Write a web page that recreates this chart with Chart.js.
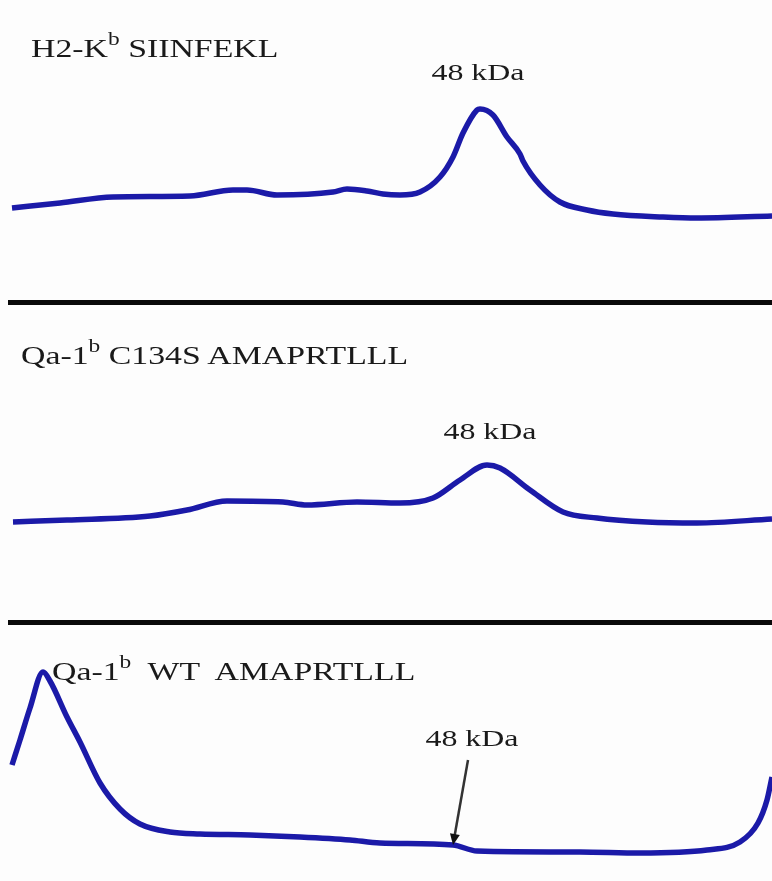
<!DOCTYPE html>
<html>
<head>
<meta charset="utf-8">
<script src="https://cdn.jsdelivr.net/npm/chart.js@4.4.1/dist/chart.umd.min.js"></script>
<style>
  body { margin: 0; background: #fdfdfd; }
  #wrap { position: relative; width: 772px; height: 881px; overflow: hidden; }
  .panel { position: absolute; left: 0; width: 772px; }
  .sep { position: absolute; left: 8px; right: 0; height: 5px; background: #0a0a0a; }
  .title { position: absolute; font-family: "Liberation Serif", "DejaVu Serif", serif; font-size: 26px; color: #1a1a1a; white-space: pre; transform: scaleX(1.3); transform-origin: 0 0; }
  .title sup { font-size: 18px; vertical-align: 0; position: relative; top: -12px; }
</style>
</head>
<body>
<div id="wrap">
  <div class="panel" style="top:0;height:300px"><canvas id="lane1"></canvas></div>
  <div class="panel" style="top:306px;height:314px"><canvas id="lane2"></canvas></div>
  <div class="panel" style="top:626px;height:255px"><canvas id="lane3"></canvas></div>
  <div class="sep" style="top:300px"></div>
  <div class="sep" style="top:620px"></div>
  <div class="title" style="left:31px;top:34px">H2-K<sup>b</sup> SIINFEKL</div>
  <div class="title" style="left:21px;top:341px">Qa-1<sup>b</sup> C134S AMAPRTLLL</div>
  <div class="title" style="left:52px;top:657px">Qa-1<sup>b</sup>  WT  AMAPRTLLL</div>
</div>
<script>
// densitometry scans: migration position vs. band intensity
const pos1 = [12, 60, 113, 190, 233, 247, 277, 333, 347, 367, 383, 400, 420, 440, 453, 463, 477, 480, 493, 507, 520, 523, 540, 560, 587, 613, 663, 697, 772];
const h2kb = [92, 97, 103, 104, 110, 110, 105, 108, 111, 109, 106, 105, 108, 123, 143, 167, 190, 191, 185, 163, 146, 139, 115, 98, 90, 86, 83, 82, 84];

const pos2 = [13, 67, 150, 187, 227, 283, 307, 357, 400, 433, 460, 487, 500, 530, 563, 597, 647, 697, 772];
const qa1C134S = [98, 100, 104, 110, 119, 118, 115, 118, 117, 122, 140, 155, 152, 130, 108, 102, 98, 97, 101];

const pos3 = [12, 20, 30, 43, 50, 67, 80, 100, 120, 140, 170, 200, 250, 300, 350, 380, 453, 477, 580, 640, 707, 740, 758, 767, 772];
const qa1WT = [116, 141, 173, 209, 200, 164, 139, 98, 72, 57, 49, 47, 46, 44, 41, 38, 36, 30, 29, 28, 31, 39, 58, 81, 104];

// 48 kDa band position on each lane
const kdaPos = [480, 487, 453];
const kdaLabel = '48 kDa';

function wideText(ctx, text, x, y) {
  ctx.save();
  ctx.translate(x, y);
  ctx.scale(1.33, 1);
  ctx.fillText(text, 0, 0);
  ctx.restore();
}

const bandLabel = {
  id: 'bandLabel',
  afterDatasetsDraw(chart, args, opts) {
    const { ctx, scales } = chart;
    const px = scales.x.getPixelForValue(opts.x);
    const ds = chart.data.datasets[0].data;
    const py = scales.y.getPixelForValue(ds.find(p => p.x === opts.x).y);
    ctx.save();
    ctx.font = '24px "Liberation Serif", serif';
    ctx.fillStyle = '#1a1a1a';
    ctx.textAlign = 'center';
    ctx.textBaseline = 'middle';
    if (opts.arrow) {
      wideText(ctx, kdaLabel, px + 19, py - 105);
      // arrow down to the band
      const sx = px + 15, sy = py - 85;
      const ang = Math.atan2(py - sy, px - sx);
      ctx.strokeStyle = '#333';
      ctx.lineWidth = 2.5;
      ctx.beginPath();
      ctx.moveTo(sx, sy);
      ctx.lineTo(px - 6 * Math.cos(ang), py - 6 * Math.sin(ang));
      ctx.stroke();
      ctx.fillStyle = '#111';
      ctx.beginPath();
      ctx.moveTo(px, py);
      ctx.lineTo(px - 11 * Math.cos(ang) + 5 * Math.sin(ang), py - 11 * Math.sin(ang) - 5 * Math.cos(ang));
      ctx.lineTo(px - 11 * Math.cos(ang) - 5 * Math.sin(ang), py - 11 * Math.sin(ang) + 5 * Math.cos(ang));
      ctx.closePath();
      ctx.fill();
    } else {
      wideText(ctx, kdaLabel, px + opts.dx, py + opts.dy);
    }
    ctx.restore();
  }
};

function makeLane(id, xs, ys, ymax, label) {
  const pts = xs.map((x, i) => ({ x: x, y: ys[i] }));
  return new Chart(document.getElementById(id), {
    type: 'line',
    data: {
      datasets: [{
        data: pts,
        borderColor: '#1b1aa8',
        borderWidth: 5.5,
        pointRadius: 0,
        cubicInterpolationMode: 'monotone',
        fill: false
      }]
    },
    options: {
      responsive: true,
      maintainAspectRatio: false,
      animation: false,
      layout: { padding: 0 },
      scales: {
        x: { type: 'linear', min: 0, max: 772, display: false },
        y: { min: 0, max: ymax, display: false }
      },
      plugins: {
        legend: { display: false },
        tooltip: { enabled: false },
        bandLabel: label
      }
    },
    plugins: [bandLabel]
  });
}

makeLane('lane1', pos1, h2kb, 300, { x: kdaPos[0], dx: -2, dy: -35 });
makeLane('lane2', pos2, qa1C134S, 314, { x: kdaPos[1], dx: 3, dy: -32 });
makeLane('lane3', pos3, qa1WT, 255, { x: kdaPos[2], arrow: true });
</script>
</body>
</html>
